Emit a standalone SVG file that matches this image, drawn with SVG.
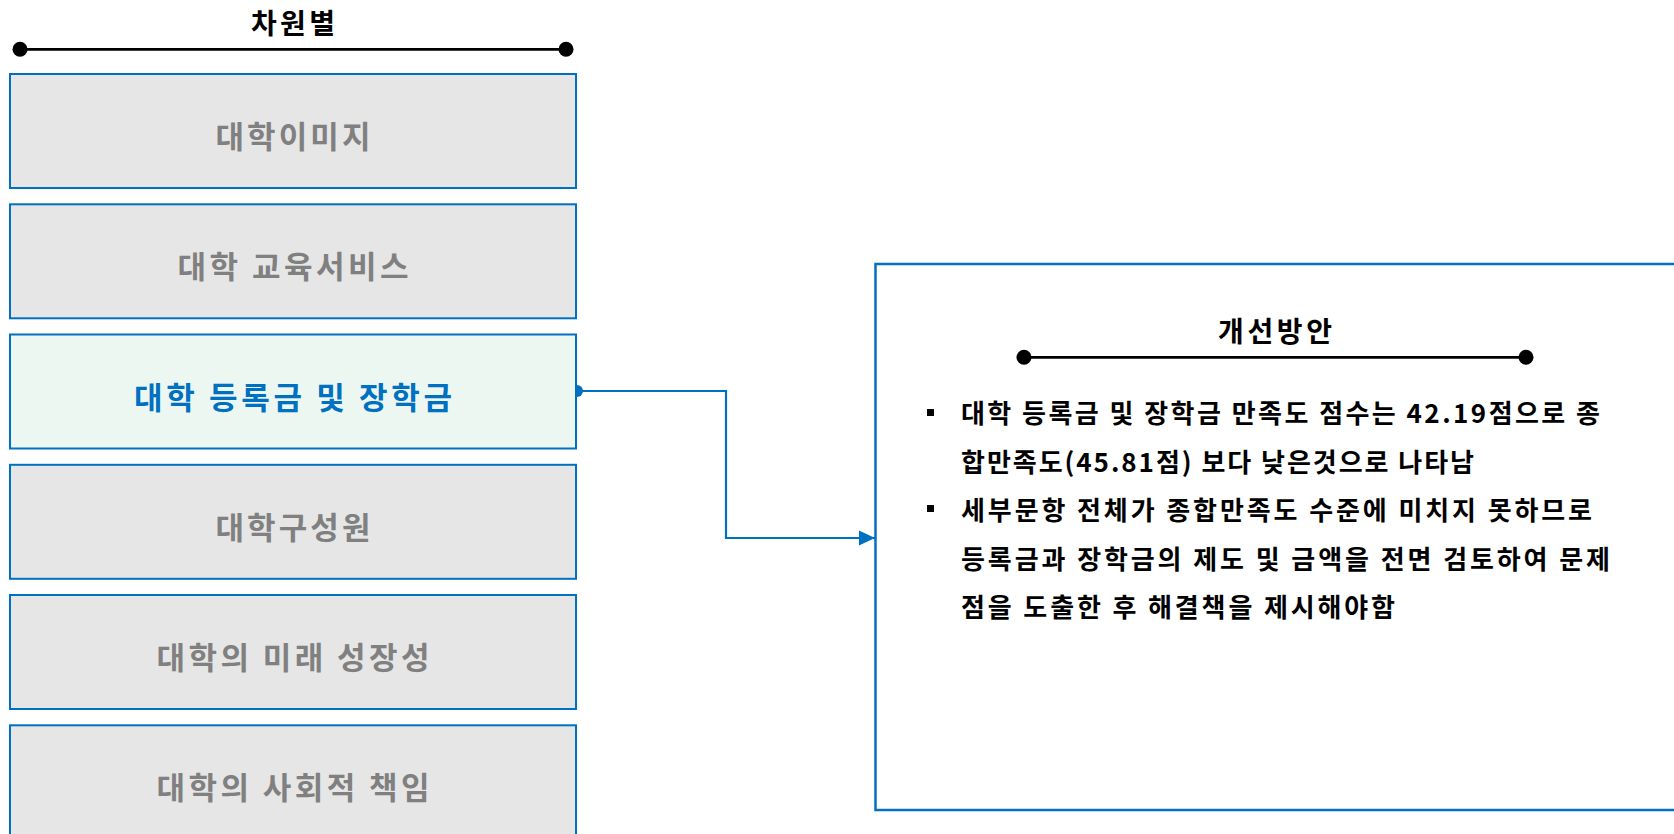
<svg xmlns="http://www.w3.org/2000/svg" width="1674" height="834" viewBox="0 0 1674 834">
<style>
.box{fill:#E6E6E6;stroke:#0070C0;stroke-width:2}
.hl{fill:#EDF7F2;stroke:#0070C0;stroke-width:2}
.t{font-family:"Noto Sans CJK KR","Noto Sans",sans-serif;font-weight:bold}
.bt{font-size:31px;fill:#808080;text-anchor:middle}
.ht{font-size:31px;fill:#0070C0;text-anchor:middle}
.title{font-size:28px;fill:#000;text-anchor:middle}
.body{font-size:26px;fill:#000}
.rule{stroke:#000;stroke-width:2.8}
.conn{fill:none;stroke:#0070C0;stroke-width:2.2}
</style>
<defs>
<marker id="arr" markerWidth="16" markerHeight="16" refX="16" refY="8" orient="auto" markerUnits="userSpaceOnUse">
<path d="M0,0.5 L16,8 L0,15.5 Z" fill="#0070C0"/>
</marker>
</defs>
<rect width="1674" height="834" fill="#fff"/>
<g id="connectors">
<circle cx="577" cy="391" r="6" fill="#0070C0"/>
<path class="conn" d="M577,391 H726 V538 H875" marker-end="url(#arr)"/>
</g>
<g id="header-left">
<text class="t title" x="293" y="34" textLength="84">차원별</text>
<line class="rule" x1="20" y1="49.3" x2="566" y2="49.3"/>
<circle cx="20" cy="49.3" r="7.5"/>
<circle cx="566" cy="49.3" r="7.5"/>
</g>
<g id="node-1">
<rect class="box" x="10" y="74" width="566" height="114"/>
<text class="t bt" x="293" y="148" textLength="155">대학이미지</text>
</g>
<g id="node-2">
<rect class="box" x="10" y="204.3" width="566" height="114"/>
<text class="t bt" x="293" y="278.3" textLength="231">대학 교육서비스</text>
</g>
<g id="node-3">
<rect class="hl" x="10" y="334.5" width="566" height="114"/>
<text class="t ht" x="293" y="408.5" textLength="318">대학 등록금 및 장학금</text>
</g>
<g id="node-4">
<rect class="box" x="10" y="464.8" width="566" height="114"/>
<text class="t bt" x="293" y="538.8" textLength="155">대학구성원</text>
</g>
<g id="node-5">
<rect class="box" x="10" y="595" width="566" height="114"/>
<text class="t bt" x="293" y="669" textLength="273">대학의 미래 성장성</text>
</g>
<g id="node-6">
<rect class="box" x="10" y="725.3" width="566" height="114"/>
<text class="t bt" x="293" y="799.3" textLength="273">대학의 사회적 책임</text>
</g>
<g id="node-improve">
<rect x="875.5" y="264" width="820" height="546" fill="#fff" stroke="#0070C0" stroke-width="2.5"/>
<text class="t title" x="1275" y="342" textLength="114">개선방안</text>
<line class="rule" x1="1024" y1="357.3" x2="1526" y2="357.3"/>
<circle cx="1024" cy="357.3" r="7.5"/>
<circle cx="1526" cy="357.3" r="7.5"/>
<rect x="927" y="409" width="7" height="7" fill="#000"/>
<rect x="927" y="505" width="7" height="7" fill="#000"/>
<text class="t body" x="961" y="423" textLength="639">대학 등록금 및 장학금 만족도 점수는 42.19점으로 종</text>
<text class="t body" x="961" y="471.5" textLength="513">합만족도(45.81점) 보다 낮은것으로 나타남</text>
<text class="t body" x="961" y="520" textLength="631">세부문항 전체가 종합만족도 수준에 미치지 못하므로</text>
<text class="t body" x="961" y="568.5" textLength="649">등록금과 장학금의 제도 및 금액을 전면 검토하여 문제</text>
<text class="t body" x="961" y="617" textLength="434">점을 도출한 후 해결책을 제시해야함</text>
</g>
</svg>
